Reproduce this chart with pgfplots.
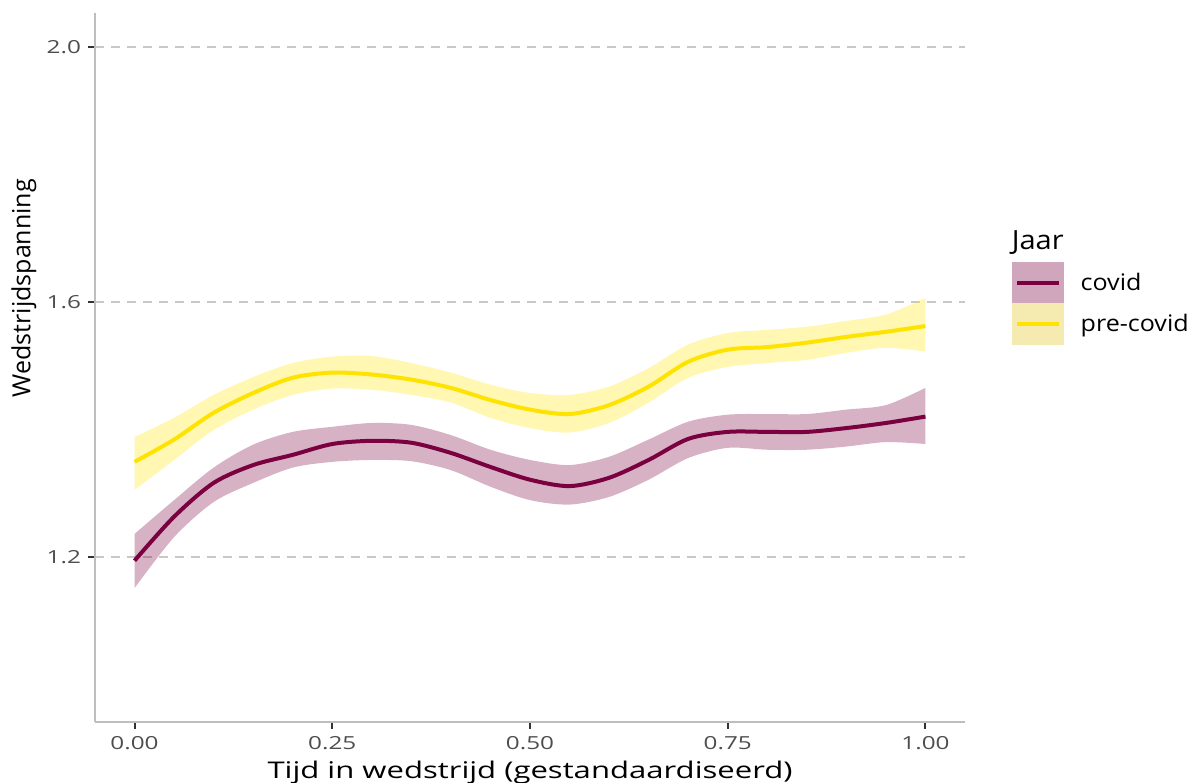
\documentclass[border=0pt]{standalone}
\usepackage{fontspec}
\setmainfont{Open Sans}[FakeStretch=1.35]
\newfontfamily\ylabfont{Open Sans}
\newfontfamily\legfont{Open Sans}[FakeStretch=1.1]
\usepackage{pgfplots}
\usepackage{pgfplotstable}
\pgfplotsset{compat=1.18}
\usepgfplotslibrary{fillbetween}

\definecolor{covid}{RGB}{122,0,64}
\definecolor{precovid}{RGB}{255,227,0}
\definecolor{covidkey}{RGB}{207,166,187}
\definecolor{precovidkey}{RGB}{245,235,176}
\definecolor{gridgrey}{RGB}{200,200,200}
\definecolor{axisgrey}{RGB}{190,190,190}
\definecolor{ticktext}{RGB}{77,77,77}

% x = gestandaardiseerde tijd, m = smooth, lo/hi = betrouwbaarheidsband
\pgfplotstableread{
x    m     lo    hi
0.00 1.194 1.151 1.236
0.05 1.263 1.231 1.289
0.10 1.316 1.286 1.340
0.15 1.344 1.316 1.376
0.20 1.360 1.340 1.396
0.25 1.377 1.349 1.404
0.30 1.382 1.352 1.410
0.35 1.379 1.350 1.407
0.40 1.363 1.336 1.391
0.45 1.341 1.310 1.368
0.50 1.321 1.289 1.352
0.55 1.311 1.282 1.344
0.60 1.324 1.294 1.357
0.65 1.352 1.321 1.384
0.70 1.385 1.355 1.412
0.75 1.396 1.371 1.423
0.80 1.396 1.368 1.424
0.85 1.396 1.368 1.424
0.90 1.402 1.373 1.431
0.95 1.410 1.380 1.438
1.00 1.420 1.377 1.465
}\covidtab

\pgfplotstableread{
x    m     lo    hi
0.00 1.349 1.305 1.388
0.05 1.384 1.352 1.418
0.10 1.426 1.399 1.454
0.15 1.457 1.431 1.482
0.20 1.481 1.454 1.504
0.25 1.489 1.464 1.514
0.30 1.486 1.462 1.515
0.35 1.478 1.454 1.504
0.40 1.465 1.442 1.489
0.45 1.446 1.418 1.470
0.50 1.431 1.402 1.457
0.55 1.424 1.395 1.454
0.60 1.438 1.410 1.467
0.65 1.467 1.442 1.496
0.70 1.506 1.481 1.533
0.75 1.525 1.498 1.551
0.80 1.529 1.504 1.556
0.85 1.536 1.509 1.561
0.90 1.545 1.520 1.570
0.95 1.553 1.528 1.580
1.00 1.562 1.522 1.606
}\precovidtab

\begin{document}
\begin{tikzpicture}
\begin{axis}[
  scale only axis,
  width=435pt, height=354.5pt,
  xmin=-0.05, xmax=1.05,
  ymin=0.941, ymax=2.053,
  axis lines*=left,
  axis line style={draw=axisgrey, line width=1.2pt, -},
  xtick={0,0.25,0.5,0.75,1},
  xticklabels={0.00,0.25,0.50,0.75,1.00},
  ytick={1.2,1.6,2.0},
  yticklabels={1.2,1.6,2.0},
  tick align=outside,
  major tick length=3.5pt,
  tick style={draw=black!80, line width=1pt},
  ticklabel style={font=\fontsize{9}{10}\selectfont, text=ticktext},
  /pgf/number format/assume math mode=true,
  ymajorgrids,
  major grid style={draw=gridgrey, line width=1pt, dash pattern=on 4.5pt off 3.5pt},
  xlabel={Tijd in wedstrijd (gestandaardiseerd)},
  xlabel style={font=\fontsize{11.5}{12}\selectfont, at={(axis description cs:0.5,0)}, anchor=north, yshift=-19.5pt, inner sep=0pt},
  ylabel={\ylabfont Wedstrijdspanning},
  ylabel style={font=\fontsize{12.5}{13}\selectfont, at={(axis description cs:0,0.612)}, anchor=center, yshift=35.5pt, inner sep=0pt},
  clip=false,
]
\coordinate (SW) at (rel axis cs:0,0);
\coordinate (NE) at (rel axis cs:1,1);

\addplot[name path=cu, draw=none, smooth] table[x=x, y=hi] {\covidtab};
\addplot[name path=cl, draw=none, smooth] table[x=x, y=lo] {\covidtab};
\addplot[fill=covid, fill opacity=0.3, draw=none] fill between[of=cu and cl];

\addplot[name path=pu, draw=none, smooth] table[x=x, y=hi] {\precovidtab};
\addplot[name path=pl, draw=none, smooth] table[x=x, y=lo] {\precovidtab};
\addplot[fill=precovid, fill opacity=0.3, draw=none] fill between[of=pu and pl];

\addplot[covid, line width=2pt, smooth] table[x=x, y=m] {\covidtab};
\addplot[precovid, line width=2pt, smooth] table[x=x, y=m] {\precovidtab};

% legenda
\node[anchor=base west, inner sep=0pt, font=\legfont\fontsize{13.2}{14}\selectfont] at (axis cs:1.1086,1.6816) {Jaar};
\fill[covidkey] (axis cs:1.1098,1.6627) rectangle (axis cs:1.1755,1.5984);
\fill[precovidkey] (axis cs:1.1098,1.5984) rectangle (axis cs:1.1755,1.5325);
\draw[covid, line width=2pt] (axis cs:1.1162,1.6298) -- (axis cs:1.1692,1.6298);
\draw[precovid, line width=2pt] (axis cs:1.1162,1.5655) -- (axis cs:1.1692,1.5655);
\node[anchor=base west, inner sep=0pt, font=\legfont\fontsize{11.4}{12}\selectfont] at (axis cs:1.1957,1.6173) {covid};
\node[anchor=base west, inner sep=0pt, font=\legfont\fontsize{11.4}{12}\selectfont] at (axis cs:1.1957,1.5529) {pre-covid};
\end{axis}
\pgfresetboundingbox
\path[use as bounding box] ([xshift=-47.5pt,yshift=-30pt]SW) rectangle ([xshift=112pt,yshift=6.5pt]NE);
\end{tikzpicture}
\end{document}
